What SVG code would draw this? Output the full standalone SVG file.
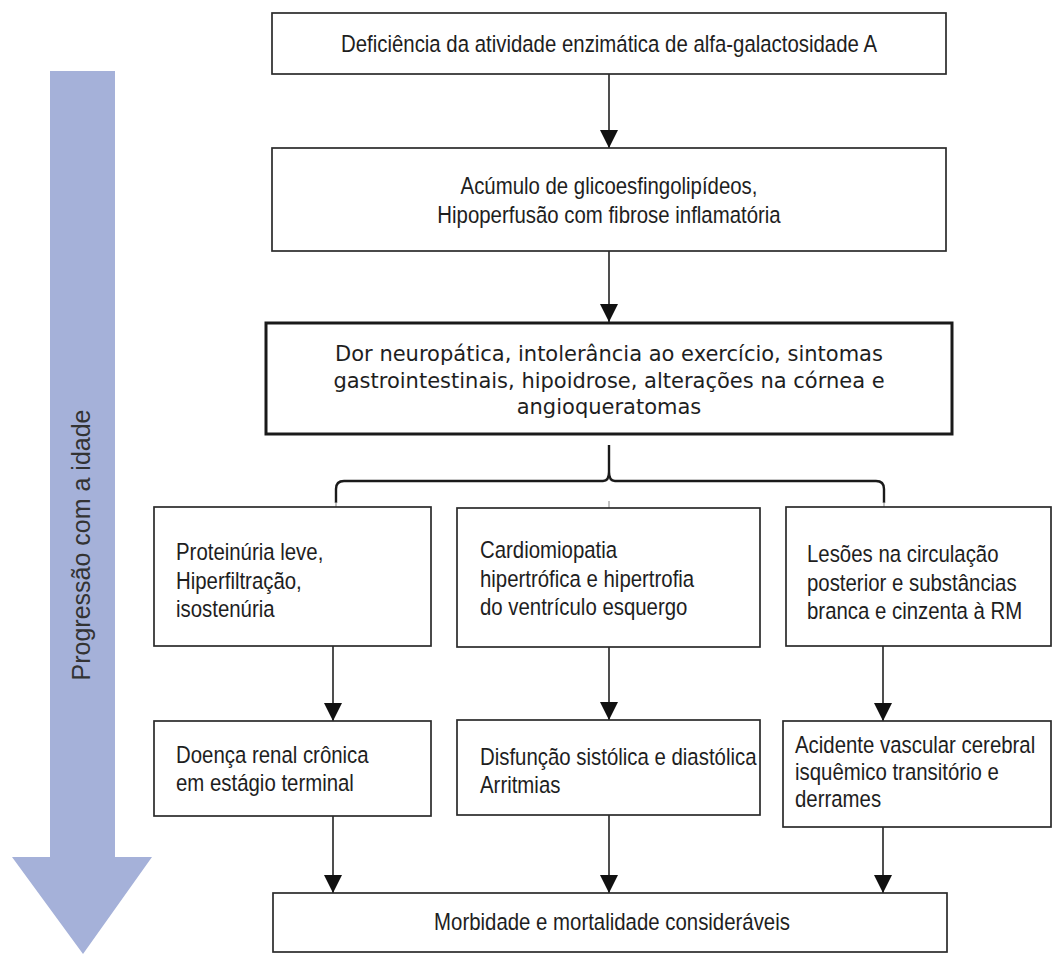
<svg xmlns="http://www.w3.org/2000/svg" width="1056" height="954" viewBox="0 0 1056 954">
<defs>
<style>
.box{fill:#fff;stroke:#2b2b2b;stroke-width:1.7}
.bold{fill:#fff;stroke:#1a1a1a;stroke-width:3}
.t{font-family:"Liberation Sans",Arial,sans-serif;font-size:20.4px;fill:#1e1e1e}
.d{font-family:"DejaVu Sans",sans-serif;font-size:21px;fill:#1e1e1e}
.c{text-anchor:middle}
.ln{stroke:#222;stroke-width:1.6;fill:none}
.brace{stroke:#1a1a1a;stroke-width:2.4;fill:none}
.tick{stroke:#999;stroke-width:1.2}
</style>
<marker id="ah" viewBox="0 0 18 19" refX="18" refY="9" markerWidth="18" markerHeight="19" markerUnits="userSpaceOnUse" orient="auto">
<path d="M0,0 L18,9 L0,18 Z" fill="#111"/>
</marker>
</defs>
<rect width="1056" height="954" fill="#fff"/>

<g id="age-arrow">
<path d="M50,71 L115,71 L115,857 L152,857 L83,954 L12,857 L50,857 Z" fill="#a5b1d9"/>
<text transform="translate(90,545) rotate(-90)" text-anchor="middle" style="font-family:'Liberation Sans',Arial,sans-serif;font-size:25px;fill:#333">Progressão com a idade</text>
</g>

<g id="connectors">
<line class="ln" x1="609" y1="74" x2="609" y2="148" marker-end="url(#ah)"/>
<line class="ln" x1="609" y1="251" x2="609" y2="322" marker-end="url(#ah)"/>
<path class="brace" d="M336,503 L336,489 Q336,481 344,481 L603,481 Q609,481 609,472 L609,445 L609,472 Q609,481 615,481 L876,481 Q884,481 884,489 L884,503"/>
<line class="tick" x1="336" y1="502" x2="336" y2="507"/>
<line class="tick" x1="609" y1="501" x2="609" y2="508"/>
<line class="tick" x1="884" y1="502" x2="884" y2="507"/>
<line class="ln" x1="333" y1="646" x2="333" y2="721" marker-end="url(#ah)"/>
<line class="ln" x1="609" y1="647" x2="609" y2="720" marker-end="url(#ah)"/>
<line class="ln" x1="883" y1="646" x2="883" y2="721" marker-end="url(#ah)"/>
<line class="ln" x1="333" y1="816" x2="333" y2="893" marker-end="url(#ah)"/>
<line class="ln" x1="609" y1="815" x2="609" y2="893" marker-end="url(#ah)"/>
<line class="ln" x1="883" y1="827" x2="883" y2="893" marker-end="url(#ah)"/>
</g>

<g id="n1">
<rect class="box" x="272" y="13" width="674" height="61"/>
<text class="t c" transform="translate(609,52) scale(1,1.15)">Deficiência da atividade enzimática de alfa-galactosidade A</text>
</g>

<g id="n2">
<rect class="box" x="272" y="148" width="674" height="103"/>
<text class="t c" transform="translate(609,194) scale(1,1.15)"><tspan x="0" y="0">Acúmulo de glicoesfingolipídeos,</tspan><tspan x="0" y="25.5">Hipoperfusão com fibrose inflamatória</tspan></text>
</g>

<g id="n3">
<rect class="bold" x="266" y="323" width="686" height="111"/>
<text class="d c"><tspan x="609" y="361">Dor neuropática, intolerância ao exercício, sintomas</tspan><tspan x="609" y="388">gastrointestinais, hipoidrose, alterações na córnea e</tspan><tspan x="609" y="414">angioqueratomas</tspan></text>
</g>

<g id="n4">
<rect class="box" x="154" y="507" width="277" height="139"/>
<text class="t" transform="translate(176,560) scale(1,1.15)"><tspan x="0" y="0">Proteinúria leve,</tspan><tspan x="0" y="24.8">Hiperfiltração,</tspan><tspan x="0" y="49.6">isostenúria</tspan></text>
</g>

<g id="n5">
<rect class="box" x="457" y="508" width="303" height="139"/>
<text class="t" transform="translate(480,558) scale(1,1.15)"><tspan x="0" y="0">Cardiomiopatia</tspan><tspan x="0" y="24.8">hipertrófica e hipertrofia</tspan><tspan x="0" y="49.6">do ventrículo esquergo</tspan></text>
</g>

<g id="n6">
<rect class="box" x="786" y="507" width="265" height="139"/>
<text class="t" transform="translate(807,562) scale(1,1.15)"><tspan x="0" y="0">Lesões na circulação</tspan><tspan x="0" y="24.8">posterior e substâncias</tspan><tspan x="0" y="49.6">branca e cinzenta à RM</tspan></text>
</g>

<g id="n7">
<rect class="box" x="154" y="721" width="277" height="95"/>
<text class="t" transform="translate(176,763) scale(1,1.15)"><tspan x="0" y="0">Doença renal crônica</tspan><tspan x="0" y="24">em estágio terminal</tspan></text>
</g>

<g id="n8">
<rect class="box" x="457" y="720" width="303" height="95"/>
<text class="t" transform="translate(480,765) scale(1,1.15)"><tspan x="0" y="0">Disfunção sistólica e diastólica</tspan><tspan x="0" y="24">Arritmias</tspan></text>
</g>

<g id="n9">
<rect class="box" x="783" y="721" width="268" height="106"/>
<text class="t" transform="translate(795,753) scale(1,1.15)"><tspan x="0" y="0">Acidente vascular cerebral</tspan><tspan x="0" y="23.5">isquêmico transitório e</tspan><tspan x="0" y="47">derrames</tspan></text>
</g>

<g id="n10">
<rect class="box" x="273" y="893" width="674" height="59"/>
<text class="t c" transform="translate(612,930) scale(1,1.15)">Morbidade e mortalidade consideráveis</text>
</g>
</svg>
